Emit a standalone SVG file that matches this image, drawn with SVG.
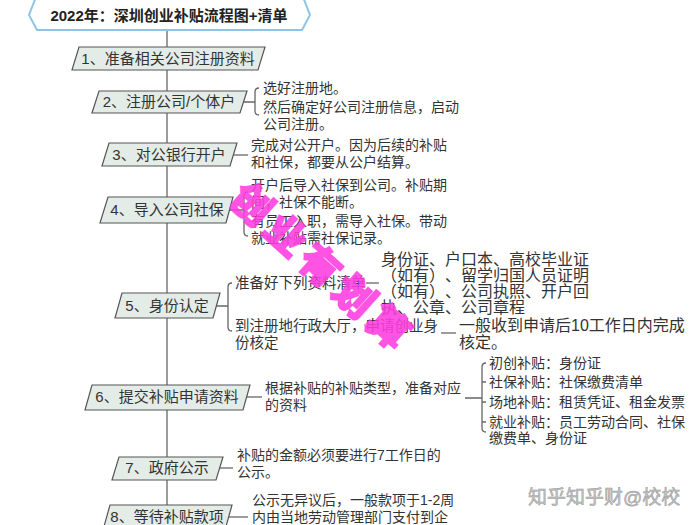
<svg xmlns="http://www.w3.org/2000/svg" width="697" height="525" viewBox="0 0 697 525">
<style>
text{font-family:"Liberation Sans","Noto Sans CJK SC",sans-serif;fill:#333;text-spacing-trim:space-all}
.box{fill:#e4ece8;stroke:#555;stroke-width:1.2}
.bt{font-size:15px;text-anchor:middle}
.t{font-size:14px}
.t5{font-size:14.5px}
.t5b{font-size:16px}
.ln{fill:none;stroke:#666;stroke-width:1.3}
</style>
<rect width="697" height="525" fill="#fff"/>
<g id="connectors">
<path class="ln" d="M167,30 V525" stroke-width="1.6"/>
<path class="ln" d="M243.5,102 H255 M259,88 Q255,88 255,92 V111 Q255,115 259,115"/>
<path class="ln" d="M233.5,155 H248"/>
<path class="ln" d="M229.5,210 H244 M248,192 Q244,192 244,196 V232 Q244,236 248,236"/>
<path class="ln" d="M216.5,306 H228 M232,283 Q228,283 228,287 V327 Q228,331 232,331"/>
<path class="ln" d="M366,283 H379"/>
<path class="ln" d="M441,333 H456"/>
<path class="ln" d="M246.5,397 H262"/>
<path class="ln" d="M465,398 H482 M486,363 Q482,363 482,367 V428 Q482,432 486,432 M482,382 H486 M482,402 H486 M482,422 H486"/>
<path class="ln" d="M219.5,468 H233"/>
<path class="ln" d="M228.5,517 H248"/>
</g>
<g id="title">
<polygon points="36,-3 303,-3 310,15 302,30 37,30 29,15" fill="#fff" stroke="#8ec5e6" stroke-width="2"/>
<text x="169" y="20.5" font-size="15" font-weight="bold" text-anchor="middle" style="fill:#222">2022年：深圳创业补贴流程图+清单</text>
</g>
<g id="step1">
<polygon class="box" points="79,47 265,47 258,70 72,70"/>
<text class="bt" x="168" y="64">1、准备相关公司注册资料</text>
</g>
<g id="step2">
<polygon class="box" points="99,91 247,91 240,113 92,113"/>
<text class="bt" x="169" y="107">2、注册公司/个体户</text>
<text class="t" x="263" y="93">选好注册地。</text>
<text class="t" x="263" y="112">然后确定好公司注册信息，启动</text>
<text class="t" x="263" y="129">公司注册。</text>
</g>
<g id="step3">
<polygon class="box" points="109,143 237,143 230,166 102,166"/>
<text class="bt" x="169" y="160">3、对公银行开户</text>
<text class="t" x="251" y="150">完成对公开户。因为后续的补贴</text>
<text class="t" x="251" y="167">和社保，都要从公户结算。</text>
</g>
<g id="step4">
<polygon class="box" points="108,197 233,197 226,223 100,223"/>
<text class="bt" x="167" y="215">4、导入公司社保</text>
<text class="t" x="251" y="190">开户后导入社保到公司。补贴期</text>
<text class="t" x="251" y="207">间，社保不能断。</text>
<text class="t" x="251" y="226">有员工入职，需导入社保。带动</text>
<text class="t" x="251" y="243">就业补贴需社保记录。</text>
</g>
<g id="step5">
<polygon class="box" points="122,293 220,293 213,318 115,318"/>
<text class="bt" x="167" y="311">5、身份认定</text>
<text class="t5" x="235" y="288">准备好下列资料清单</text>
<text class="t5" x="235" y="331">到注册地行政大厅，申请创业身</text>
<text class="t5" x="235" y="348">份核定</text>
<text class="t5b" x="381" y="264.5">身份证、户口本、高校毕业证</text>
<text class="t5b" x="381" y="280.5">（如有）、留学归国人员证明</text>
<text class="t5b" x="381" y="296.5">（如有）、公司执照、开户回</text>
<text class="t5b" x="381" y="312.5">执、公章、公司章程</text>
<text class="t5b" x="459" y="330.5">一般收到申请后10工作日内完成</text>
<text class="t5b" x="459" y="347.5">核定。</text>
</g>
<g id="step6">
<polygon class="box" points="92,385 250,385 243,410 85,410"/>
<text class="bt" x="167" y="402">6、提交补贴申请资料</text>
<text class="t" x="265" y="393">根据补贴的补贴类型，准备对应</text>
<text class="t" x="265" y="410">的资料</text>
<text class="t" x="489" y="368">初创补贴：身份证</text>
<text class="t" x="489" y="387">社保补贴：社保缴费清单</text>
<text class="t" x="489" y="407">场地补贴：租赁凭证、租金发票</text>
<text class="t" x="489" y="427">就业补贴：员工劳动合同、社保</text>
<text class="t" x="489" y="443">缴费单、身份证</text>
</g>
<g id="step7">
<polygon class="box" points="119,457 223,457 216,480 112,480"/>
<text class="bt" x="167" y="473">7、政府公示</text>
<text class="t" x="237" y="460">补贴的金额必须要进行7工作日的</text>
<text class="t" x="237" y="477">公示。</text>
</g>
<g id="step8">
<polygon class="box" points="110,505 232,505 225,530 103,530"/>
<text class="bt" x="167" y="522">8、等待补贴款项</text>
<text class="t" x="252" y="505">公示无异议后，一般款项于1-2周</text>
<text class="t" x="252" y="522">内由当地劳动管理部门支付到企</text>
</g>
<g id="watermarks">
<text x="322" y="282" transform="rotate(42 322 268)" font-size="40" font-weight="bold" text-anchor="middle" letter-spacing="6" style="fill:#ff3ce0;stroke:#ff3ce0;stroke-width:2.5" opacity="0.88">创业有划算</text>
<text x="528" y="504" font-size="19" style="fill:#c4c4c4;stroke:#999;stroke-width:0.5">知乎知乎财@校校</text>
</g>
</svg>
